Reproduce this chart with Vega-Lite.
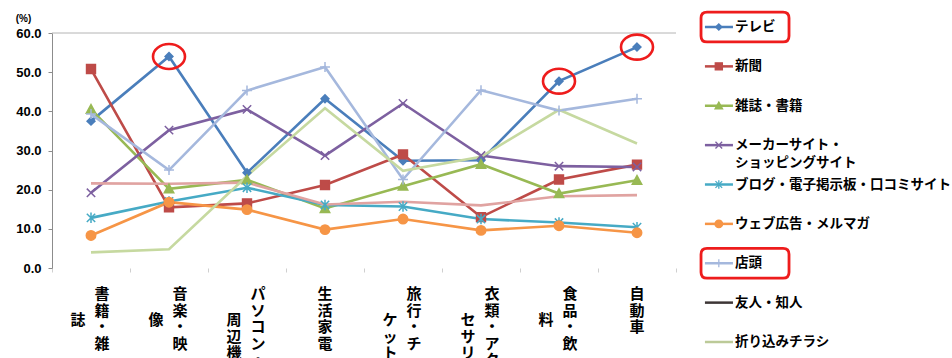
{
  "$schema": "https://vega.github.io/schema/vega-lite/v6.json",
  "width": 624,
  "height": 235,
  "autosize": {"type": "none"},
  "padding": {"left": 52, "top": 33, "right": 276, "bottom": 90},
  "background": "white",
  "config": {
    "view": {"stroke": null},
    "font": "Noto Sans CJK JP",
    "axisY": {
      "titleAngle": 0, "titleX": -29, "titleY": -15,
      "titleAlign": "center", "titleBaseline": "middle",
      "titleFont": "Liberation Sans", "titleFontSize": 10, "titleFontWeight": "bold", "titleColor": "#000",
      "tickCount": 6, "format": ".1f", "grid": false,
      "labelOverlap": false, "labelFlush": false,
      "domainColor": "#8c8c8c", "tickColor": "#8c8c8c", "tickSize": 4,
      "labelFont": "Liberation Sans", "labelFontSize": 13, "labelFontWeight": "bold",
      "labelColor": "#000", "labelPadding": 7
    },
    "axisX": {
      "labels": false, "domain": false, "ticks": true, "tickBand": "extent",
      "tickColor": "#cfcfcf", "tickSize": 4, "grid": false
    }
  },
  "datasets": {
    "rows": [
      {"series": "テレビ", "cat": "書籍・雑誌", "value": 37.5},
      {"series": "テレビ", "cat": "音楽・映像", "value": 54.0},
      {"series": "テレビ", "cat": "パソコン・周辺機器", "value": 24.3},
      {"series": "テレビ", "cat": "生活家電", "value": 43.2},
      {"series": "テレビ", "cat": "旅行・チケット", "value": 27.4},
      {"series": "テレビ", "cat": "衣類・アクセサリー", "value": 27.5},
      {"series": "テレビ", "cat": "食品・飲料", "value": 47.7},
      {"series": "テレビ", "cat": "自動車", "value": 56.4},
      {"series": "新聞", "cat": "書籍・雑誌", "value": 50.8},
      {"series": "新聞", "cat": "音楽・映像", "value": 15.5},
      {"series": "新聞", "cat": "パソコン・周辺機器", "value": 16.5},
      {"series": "新聞", "cat": "生活家電", "value": 21.2},
      {"series": "新聞", "cat": "旅行・チケット", "value": 29.0},
      {"series": "新聞", "cat": "衣類・アクセサリー", "value": 13.0},
      {"series": "新聞", "cat": "食品・飲料", "value": 22.6},
      {"series": "新聞", "cat": "自動車", "value": 26.4},
      {"series": "雑誌・書籍", "cat": "書籍・雑誌", "value": 40.5},
      {"series": "雑誌・書籍", "cat": "音楽・映像", "value": 20.2},
      {"series": "雑誌・書籍", "cat": "パソコン・周辺機器", "value": 22.5},
      {"series": "雑誌・書籍", "cat": "生活家電", "value": 15.2},
      {"series": "雑誌・書籍", "cat": "旅行・チケット", "value": 20.9},
      {"series": "雑誌・書籍", "cat": "衣類・アクセサリー", "value": 26.5},
      {"series": "雑誌・書籍", "cat": "食品・飲料", "value": 19.0},
      {"series": "雑誌・書籍", "cat": "自動車", "value": 22.4},
      {"series": "メーカーサイト・ショッピングサイト", "cat": "書籍・雑誌", "value": 19.2},
      {"series": "メーカーサイト・ショッピングサイト", "cat": "音楽・映像", "value": 35.2},
      {"series": "メーカーサイト・ショッピングサイト", "cat": "パソコン・周辺機器", "value": 40.5},
      {"series": "メーカーサイト・ショッピングサイト", "cat": "生活家電", "value": 28.7},
      {"series": "メーカーサイト・ショッピングサイト", "cat": "旅行・チケット", "value": 42.0},
      {"series": "メーカーサイト・ショッピングサイト", "cat": "衣類・アクセサリー", "value": 28.7},
      {"series": "メーカーサイト・ショッピングサイト", "cat": "食品・飲料", "value": 26.0},
      {"series": "メーカーサイト・ショッピングサイト", "cat": "自動車", "value": 25.8},
      {"series": "ブログ・電子掲示板・口コミサイト", "cat": "書籍・雑誌", "value": 12.8},
      {"series": "ブログ・電子掲示板・口コミサイト", "cat": "音楽・映像", "value": 17.0},
      {"series": "ブログ・電子掲示板・口コミサイト", "cat": "パソコン・周辺機器", "value": 20.5},
      {"series": "ブログ・電子掲示板・口コミサイト", "cat": "生活家電", "value": 16.1},
      {"series": "ブログ・電子掲示板・口コミサイト", "cat": "旅行・チケット", "value": 15.7},
      {"series": "ブログ・電子掲示板・口コミサイト", "cat": "衣類・アクセサリー", "value": 12.5},
      {"series": "ブログ・電子掲示板・口コミサイト", "cat": "食品・飲料", "value": 11.6},
      {"series": "ブログ・電子掲示板・口コミサイト", "cat": "自動車", "value": 10.4},
      {"series": "ウェブ広告・メルマガ", "cat": "書籍・雑誌", "value": 8.3},
      {"series": "ウェブ広告・メルマガ", "cat": "音楽・映像", "value": 16.8},
      {"series": "ウェブ広告・メルマガ", "cat": "パソコン・周辺機器", "value": 14.9},
      {"series": "ウェブ広告・メルマガ", "cat": "生活家電", "value": 9.8},
      {"series": "ウェブ広告・メルマガ", "cat": "旅行・チケット", "value": 12.5},
      {"series": "ウェブ広告・メルマガ", "cat": "衣類・アクセサリー", "value": 9.6},
      {"series": "ウェブ広告・メルマガ", "cat": "食品・飲料", "value": 10.8},
      {"series": "ウェブ広告・メルマガ", "cat": "自動車", "value": 9.0},
      {"series": "店頭", "cat": "書籍・雑誌", "value": 39.3},
      {"series": "店頭", "cat": "音楽・映像", "value": 25.0},
      {"series": "店頭", "cat": "パソコン・周辺機器", "value": 45.3},
      {"series": "店頭", "cat": "生活家電", "value": 51.3},
      {"series": "店頭", "cat": "旅行・チケット", "value": 22.6},
      {"series": "店頭", "cat": "衣類・アクセサリー", "value": 45.4},
      {"series": "店頭", "cat": "食品・飲料", "value": 40.2},
      {"series": "店頭", "cat": "自動車", "value": 43.2},
      {"series": "友人・知人", "cat": "書籍・雑誌", "value": 21.6},
      {"series": "友人・知人", "cat": "音楽・映像", "value": 21.5},
      {"series": "友人・知人", "cat": "パソコン・周辺機器", "value": 21.8},
      {"series": "友人・知人", "cat": "生活家電", "value": 16.2},
      {"series": "友人・知人", "cat": "旅行・チケット", "value": 16.9},
      {"series": "友人・知人", "cat": "衣類・アクセサリー", "value": 16.0},
      {"series": "友人・知人", "cat": "食品・飲料", "value": 18.3},
      {"series": "友人・知人", "cat": "自動車", "value": 18.6},
      {"series": "折り込みチラシ", "cat": "書籍・雑誌", "value": 4.0},
      {"series": "折り込みチラシ", "cat": "音楽・映像", "value": 4.8},
      {"series": "折り込みチラシ", "cat": "パソコン・周辺機器", "value": 23.5},
      {"series": "折り込みチラシ", "cat": "生活家電", "value": 40.8},
      {"series": "折り込みチラシ", "cat": "旅行・チケット", "value": 24.8},
      {"series": "折り込みチラシ", "cat": "衣類・アクセサリー", "value": 28.4},
      {"series": "折り込みチラシ", "cat": "食品・飲料", "value": 40.4},
      {"series": "折り込みチラシ", "cat": "自動車", "value": 31.8}
    ],
    "xlabels": [
      {"cat": "書籍・雑誌", "col": "right", "text": "書|籍|・|雑"},
      {"cat": "書籍・雑誌", "col": "left", "text": "誌"},
      {"cat": "音楽・映像", "col": "right", "text": "音|楽|・|映"},
      {"cat": "音楽・映像", "col": "left", "text": "像"},
      {"cat": "パソコン・周辺機器", "col": "right", "text": "パ|ソ|コ|ン|・"},
      {"cat": "パソコン・周辺機器", "col": "left", "text": "周|辺|機|器"},
      {"cat": "生活家電", "col": "center", "text": "生|活|家|電"},
      {"cat": "旅行・チケット", "col": "right", "text": "旅|行|・|チ"},
      {"cat": "旅行・チケット", "col": "left", "text": "ケ|ッ|ト"},
      {"cat": "衣類・アクセサリー", "col": "right", "text": "衣|類|・|ア|ク"},
      {"cat": "衣類・アクセサリー", "col": "left", "text": "セ|サ|リ|︱"},
      {"cat": "食品・飲料", "col": "right", "text": "食|品|・|飲"},
      {"cat": "食品・飲料", "col": "left", "text": "料"},
      {"cat": "自動車", "col": "center", "text": "自|動|車"}
    ],
    "legend": [
      {"series": "テレビ", "label": "テレビ"},
      {"series": "新聞", "label": "新聞"},
      {"series": "雑誌・書籍", "label": "雑誌・書籍"},
      {"series": "メーカーサイト・ショッピングサイト", "label": "メーカーサイト・", "label2": "ショッピングサイト"},
      {"series": "ブログ・電子掲示板・口コミサイト", "label": "ブログ・電子掲示板・口コミサイト"},
      {"series": "ウェブ広告・メルマガ", "label": "ウェブ広告・メルマガ"},
      {"series": "店頭", "label": "店頭"},
      {"series": "友人・知人", "label": "友人・知人"},
      {"series": "折り込みチラシ", "label": "折り込みチラシ"}
    ]
  },
  "layer": [
    {
      "layer": [
        {
          "data": {"values": [{}]},
          "mark": {"type": "rule", "color": "#b4b4b4", "strokeWidth": 1},
          "encoding": {"y": {"datum": 60, "type": "quantitative", "title": "(%)"}}
        },
        {
          "data": {"name": "rows"},
          "mark": {"type": "line", "strokeWidth": 2.6},
          "encoding": {
            "x": {
              "field": "cat", "type": "nominal", "title": null,
              "scale": {"type": "band", "paddingInner": 0, "paddingOuter": 0,
                "domain": ["書籍・雑誌", "音楽・映像", "パソコン・周辺機器", "生活家電", "旅行・チケット", "衣類・アクセサリー", "食品・飲料", "自動車"]}
            },
            "y": {
              "field": "value", "type": "quantitative", "title": "(%)",
              "scale": {"domain": [0, 60], "nice": false}
            },
            "color": {
              "field": "series", "type": "nominal", "legend": null,
              "scale": {
                "domain": ["テレビ", "新聞", "雑誌・書籍", "メーカーサイト・ショッピングサイト", "ブログ・電子掲示板・口コミサイト", "ウェブ広告・メルマガ", "店頭", "友人・知人", "折り込みチラシ"],
                "range": ["#4a7ebb", "#be4b48", "#98b954", "#7d60a0", "#46aac5", "#f69546", "#a5b8dd", "#e0a3a1", "#c6d9a0"]
              }
            }
          }
        },
        {
          "data": {"name": "rows"},
          "transform": [{"filter": {"field": "series", "oneOf": ["テレビ", "新聞", "雑誌・書籍", "メーカーサイト・ショッピングサイト", "ブログ・電子掲示板・口コミサイト", "ウェブ広告・メルマガ", "店頭"]}}],
          "mark": {"type": "point", "filled": true, "opacity": 1, "strokeWidth": 1.5, "size": 110},
          "encoding": {
            "x": {"field": "cat", "type": "nominal", "title": null},
            "y": {"field": "value", "type": "quantitative", "title": "(%)"},
            "color": {"field": "series", "type": "nominal", "legend": null},
            "stroke": {
              "field": "series", "type": "nominal", "legend": null,
              "scale": {
                "domain": ["テレビ", "新聞", "雑誌・書籍", "メーカーサイト・ショッピングサイト", "ブログ・電子掲示板・口コミサイト", "ウェブ広告・メルマガ", "店頭"],
                "range": ["#4a7ebb", "#be4b48", "#98b954", "#7d60a0", "#46aac5", "#f69546", "#a5b8dd"]
              }
            },
            "shape": {
              "field": "series", "type": "nominal", "legend": null,
              "scale": {
                "domain": ["テレビ", "新聞", "雑誌・書籍", "メーカーサイト・ショッピングサイト", "ブログ・電子掲示板・口コミサイト", "ウェブ広告・メルマガ", "店頭"],
                "range": [
                  "M0,-0.75L0.75,0L0,0.75L-0.75,0Z",
                  "M-0.85,-0.85L0.85,-0.85L0.85,0.85L-0.85,0.85Z",
                  "M0,-0.9L0.9,0.75L-0.9,0.75Z",
                  "M-0.8,-0.8L0.8,0.8M-0.8,0.8L0.8,-0.8",
                  "M-0.8,-0.8L0.8,0.8M-0.8,0.8L0.8,-0.8M0,-1L0,1",
                  "M-0.9,0A0.9,0.9 0 1,0 0.9,0A0.9,0.9 0 1,0 -0.9,0Z",
                  "M-0.95,0L0.95,0M0,-0.95L0,0.95"
                ]
              }
            }
          }
        },
        {
          "data": {"name": "rows"},
          "transform": [{"filter": "datum.series === 'テレビ' && indexof(['音楽・映像', '食品・飲料', '自動車'], datum.cat) >= 0"}],
          "mark": {
            "type": "point", "filled": false, "opacity": 1,
            "shape": "M-1,0A1,0.78 0 1,1 1,0A1,0.78 0 1,1 -1,0Z",
            "size": 1024, "stroke": "#ee1c1c", "strokeWidth": 2.6
          },
          "encoding": {
            "x": {"field": "cat", "type": "nominal", "title": null},
            "y": {"field": "value", "type": "quantitative", "title": "(%)"}
          }
        },
        {
          "data": {"name": "xlabels"},
          "transform": [{"filter": "datum.col === 'right'"}],
          "mark": {"type": "text", "align": "center", "baseline": "top", "dx": 11, "dy": 19, "lineBreak": "|", "lineHeight": 16.5, "fontSize": 15, "fontWeight": "bold", "font": "Noto Sans CJK JP", "color": "#000"},
          "encoding": {
            "x": {"field": "cat", "type": "nominal", "title": null},
            "y": {"datum": 0, "type": "quantitative", "title": "(%)"},
            "text": {"field": "text"}
          }
        },
        {
          "data": {"name": "xlabels"},
          "transform": [{"filter": "datum.col === 'center'"}],
          "mark": {"type": "text", "align": "center", "baseline": "top", "dx": 0, "dy": 19, "lineBreak": "|", "lineHeight": 16.5, "fontSize": 15, "fontWeight": "bold", "font": "Noto Sans CJK JP", "color": "#000"},
          "encoding": {
            "x": {"field": "cat", "type": "nominal", "title": null},
            "y": {"datum": 0, "type": "quantitative", "title": "(%)"},
            "text": {"field": "text"}
          }
        },
        {
          "data": {"name": "xlabels"},
          "transform": [{"filter": "datum.col === 'left'"}],
          "mark": {"type": "text", "align": "center", "baseline": "middle", "dx": -13, "dy": 52, "lineBreak": "|", "lineHeight": 16.5, "fontSize": 15, "fontWeight": "bold", "font": "Noto Sans CJK JP", "color": "#000"},
          "encoding": {
            "x": {"field": "cat", "type": "nominal", "title": null},
            "y": {"datum": 0, "type": "quantitative", "title": "(%)"},
            "text": {"field": "text"}
          }
        }
      ]
    },
    {
      "data": {"name": "legend"},
      "encoding": {
        "y": {
          "field": "series", "type": "nominal", "axis": null,
          "scale": {
            "type": "point", "padding": 0, "range": [-6, 309],
            "domain": ["テレビ", "新聞", "雑誌・書籍", "メーカーサイト・ショッピングサイト", "ブログ・電子掲示板・口コミサイト", "ウェブ広告・メルマガ", "店頭", "友人・知人", "折り込みチラシ"]
          }
        }
      },
      "layer": [
        {
          "mark": {"type": "rule", "strokeWidth": 2.5},
          "encoding": {
            "x": {"datum": 0.057, "type": "quantitative", "axis": null, "scale": {"domain": [0, 1], "range": [638, 900], "nice": false, "zero": false}},
            "x2": {"datum": 0.164},
            "color": {
              "field": "series", "type": "nominal", "legend": null,
              "scale": {
                "domain": ["テレビ", "新聞", "雑誌・書籍", "メーカーサイト・ショッピングサイト", "ブログ・電子掲示板・口コミサイト", "ウェブ広告・メルマガ", "店頭", "友人・知人", "折り込みチラシ"],
                "range": ["#4a7ebb", "#be4b48", "#98b954", "#7d60a0", "#46aac5", "#f69546", "#a5b8dd", "#3d3636", "#bcca98"]
              }
            }
          }
        },
        {
          "transform": [{"filter": {"field": "series", "oneOf": ["テレビ", "新聞", "雑誌・書籍", "メーカーサイト・ショッピングサイト", "ブログ・電子掲示板・口コミサイト", "ウェブ広告・メルマガ", "店頭"]}}],
          "mark": {"type": "point", "filled": true, "opacity": 1, "strokeWidth": 1.3, "size": 70},
          "encoding": {
            "x": {"datum": 0.11, "type": "quantitative", "axis": null},
            "color": {"field": "series", "type": "nominal", "legend": null},
            "stroke": {
              "field": "series", "type": "nominal", "legend": null,
              "scale": {
                "domain": ["テレビ", "新聞", "雑誌・書籍", "メーカーサイト・ショッピングサイト", "ブログ・電子掲示板・口コミサイト", "ウェブ広告・メルマガ", "店頭"],
                "range": ["#4a7ebb", "#be4b48", "#98b954", "#7d60a0", "#46aac5", "#f69546", "#a5b8dd"]
              }
            },
            "shape": {
              "field": "series", "type": "nominal", "legend": null,
              "scale": {
                "domain": ["テレビ", "新聞", "雑誌・書籍", "メーカーサイト・ショッピングサイト", "ブログ・電子掲示板・口コミサイト", "ウェブ広告・メルマガ", "店頭"],
                "range": [
                  "M0,-0.75L0.75,0L0,0.75L-0.75,0Z",
                  "M-0.85,-0.85L0.85,-0.85L0.85,0.85L-0.85,0.85Z",
                  "M0,-0.9L0.9,0.75L-0.9,0.75Z",
                  "M-0.8,-0.8L0.8,0.8M-0.8,0.8L0.8,-0.8",
                  "M-0.8,-0.8L0.8,0.8M-0.8,0.8L0.8,-0.8M0,-1L0,1",
                  "M-0.9,0A0.9,0.9 0 1,0 0.9,0A0.9,0.9 0 1,0 -0.9,0Z",
                  "M-0.95,0L0.95,0M0,-0.95L0,0.95"
                ]
              }
            }
          }
        },
        {
          "mark": {"type": "text", "align": "left", "baseline": "middle", "fontSize": 13.5, "fontWeight": "bold", "font": "Noto Sans CJK JP", "color": "#000"},
          "encoding": {
            "x": {"datum": 0.172, "type": "quantitative", "axis": null},
            "text": {"field": "label"}
          }
        },
        {
          "transform": [{"filter": "isValid(datum.label2)"}],
          "mark": {"type": "text", "align": "left", "baseline": "middle", "dy": 18, "fontSize": 13.5, "fontWeight": "bold", "font": "Noto Sans CJK JP", "color": "#000"},
          "encoding": {
            "x": {"datum": 0.172, "type": "quantitative", "axis": null},
            "text": {"field": "label2"}
          }
        },
        {
          "transform": [{"filter": {"field": "series", "oneOf": ["テレビ", "店頭"]}}],
          "mark": {
            "type": "point", "filled": false, "opacity": 1, "size": 7744,
            "shape": "M-0.864,-0.34L0.864,-0.34Q1,-0.34 1,-0.204L1,0.204Q1,0.34 0.864,0.34L-0.864,0.34Q-1,0.34 -1,0.204L-1,-0.204Q-1,-0.34 -0.864,-0.34Z",
            "stroke": "#ee1c1c", "strokeWidth": 2.8
          },
          "encoding": {
            "x": {"datum": 0.21, "type": "quantitative", "axis": null}
          }
        }
      ]
    }
  ],
  "resolve": {
    "scale": {"x": "independent", "y": "independent", "color": "independent", "stroke": "independent", "shape": "independent"},
    "axis": {"x": "independent", "y": "independent"}
  }
}
